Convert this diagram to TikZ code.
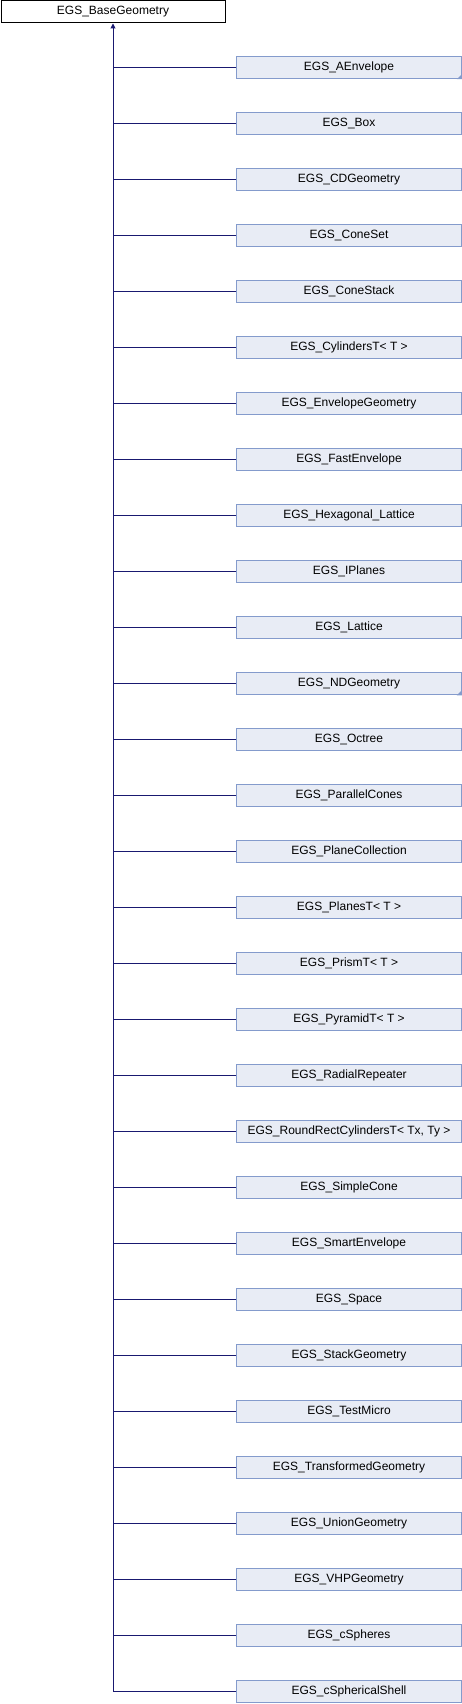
\documentclass[tikz,border=0pt]{standalone}
\usepackage{fontspec}
\setmainfont{Liberation Sans}
\usetikzlibrary{arrows.meta}
\definecolor{edgecol}{RGB}{25,25,112}
\definecolor{boxfill}{RGB}{232,236,245}
\definecolor{boxdraw}{RGB}{132,155,204}
\tikzset{
  basebox/.style={draw=black, fill=white, line width=1pt, inner sep=0pt, minimum width=224pt, minimum height=22.5pt, font=\fontsize{12}{14}\selectfont},
  childbox/.style={draw=boxdraw, fill=boxfill, line width=1pt, inner sep=0pt, minimum width=224.5pt, minimum height=22.5pt, font=\fontsize{12}{14}\selectfont},
  edge/.style={draw=edgecol, line width=1pt},
  moremark/.style={fill=boxdraw, draw=none}
}
\begin{document}
\begin{tikzpicture}[x=1pt,y=1pt]
\path[fill=white] (0,0) rectangle (462,-1704);
\useasboundingbox (0,0) rectangle (462,-1704);
\node[basebox] (base) at (113,-11.75) {EGS\_BaseGeometry};
\foreach \n [count=\i from 0] in {
  EGS\_AEnvelope, EGS\_Box, EGS\_CDGeometry, EGS\_ConeSet, EGS\_ConeStack,
  {EGS\_CylindersT< T >}, EGS\_EnvelopeGeometry, EGS\_FastEnvelope,
  EGS\_Hexagonal\_Lattice, EGS\_IPlanes, EGS\_Lattice, EGS\_NDGeometry,
  EGS\_Octree, EGS\_ParallelCones, EGS\_PlaneCollection, {EGS\_PlanesT< T >},
  {EGS\_PrismT< T >}, {EGS\_PyramidT< T >}, EGS\_RadialRepeater,
  {EGS\_RoundRectCylindersT< Tx, Ty >}, EGS\_SimpleCone, EGS\_SmartEnvelope,
  EGS\_Space, EGS\_StackGeometry, EGS\_TestMicro, EGS\_TransformedGeometry,
  EGS\_UnionGeometry, EGS\_VHPGeometry, EGS\_cSpheres, EGS\_cSphericalShell}
{
  \node[childbox] (c\i) at (349,{-67.5-56*\i}) {\n};
  \draw[edge] (c\i.west) -- (c\i.west -| base.south);
}
\fill[moremark] (c0.south east) -- ++(-5,0) -- ++(5,5) -- cycle;
\fill[moremark] (c11.south east) -- ++(-5,0) -- ++(5,5) -- cycle;
\draw[edge, -{Triangle[width=5pt,length=5pt]}] (c29.west -| base.south) -- (base.south);
\end{tikzpicture}
\end{document}
